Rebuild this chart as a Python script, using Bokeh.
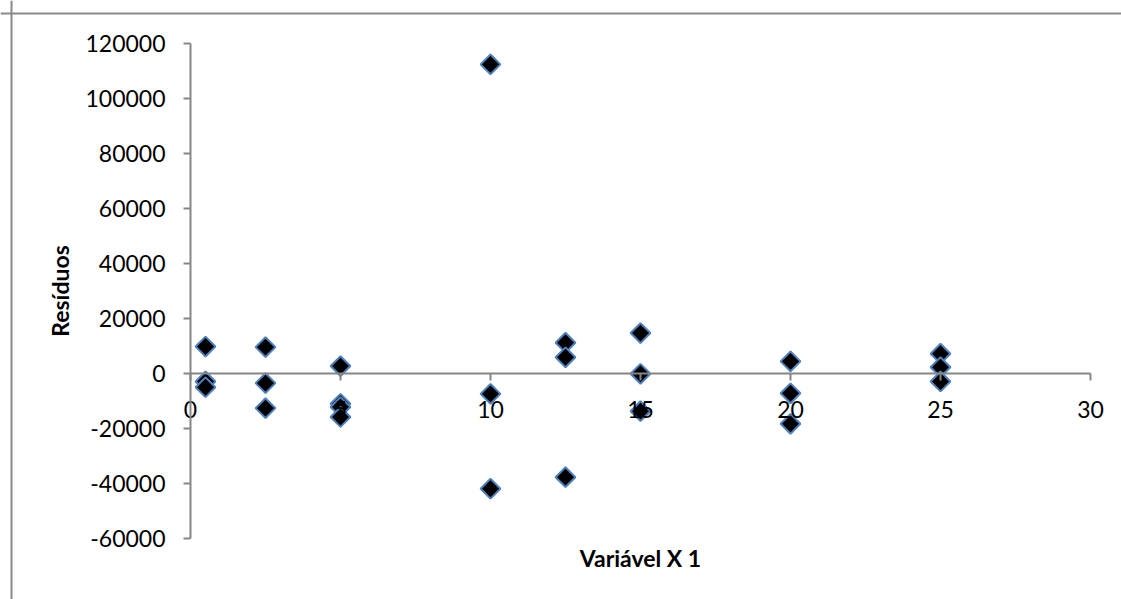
from bokeh.plotting import figure
from bokeh.models import Range1d, FixedTicker, NumeralTickFormatter, Label, Span
from bokeh.embed import file_html
from bokeh.resources import INLINE
import numpy as np

# data
x_vals = [0.5, 0.5, 0.5,
          2.5, 2.5, 2.5,
          5, 5, 5, 5,
          10, 10, 10,
          12.5, 12.5, 12.5,
          15, 15, 15,
          20, 20, 20,
          25, 25, 25]
residuos = [9800, -2900, -5000,
            9600, -3500, -12600,
            2700, -11000, -12200, -15800,
            112400, -7400, -41900,
            11200, 5900, -37700,
            14700, -100, -13700,
            4400, -7200, -18300,
            7200, 2300, -2900]
x_ticks = [0, 5, 10, 15, 20, 25, 30]
y_ticks = [-60000, -40000, -20000, 0, 20000, 40000, 60000, 80000, 100000, 120000]

FONT = "Lato"
AXIS_COLOR = "#868686"
W, H = 1121, 599

# layout geometry (pixels inside the figure)
X0_PX, X_PER_UNIT = 190, 30.0          # x=0 at this pixel; 30 px per unit
Y0_PX, Y_PER_UNIT = 373, 55.0 / 20000  # y=0 at this pixel (from top)
x_start = -X0_PX / X_PER_UNIT
x_end = (W - X0_PX) / X_PER_UNIT
y_end = Y0_PX / Y_PER_UNIT
y_start = -(H - Y0_PX) / Y_PER_UNIT

p = figure(width=W, height=H, output_backend="svg", toolbar_location=None,
           x_range=Range1d(x_start, x_end), y_range=Range1d(y_start, y_end),
           min_border=0, min_border_left=0, min_border_right=0,
           min_border_top=0, min_border_bottom=0)
p.outline_line_color = None
p.grid.visible = False
p.background_fill_color = "white"
p.border_fill_color = "white"

for ax in (p.xaxis, p.yaxis):
    ax.axis_line_color = AXIS_COLOR
    ax.axis_line_width = 2
    ax.major_tick_line_color = AXIS_COLOR
    ax.major_tick_line_width = 2
    ax.major_tick_in = 0
    ax.major_tick_out = 7
    ax.minor_tick_line_color = None
    ax.major_label_text_font = FONT
    ax.major_label_text_font_size = "23px"
    ax.major_label_text_color = "black"

p.xaxis.ticker = FixedTicker(ticks=x_ticks)
p.yaxis.ticker = FixedTicker(ticks=y_ticks)
p.yaxis.formatter = NumeralTickFormatter(format="0")
p.xaxis.fixed_location = 0
p.yaxis.fixed_location = 0
p.xaxis.bounds = (0, 30)
p.yaxis.bounds = (-60000, 120000)
p.xaxis.major_label_standoff = 20
p.yaxis.major_label_standoff = 18

p.yaxis.axis_label = "Resíduos"
p.yaxis.axis_label_text_font = FONT
p.yaxis.axis_label_text_font_size = "23px"
p.yaxis.axis_label_text_font_style = "bold"
p.yaxis.axis_label_text_color = "black"
p.yaxis.axis_label_standoff = 8

# outer chart border (only its top and left edges fall inside the picture)
p.add_layout(Span(location=x_start + 11 / X_PER_UNIT, dimension="height",
                  line_color="#898989", line_width=2))
p.add_layout(Span(location=y_end - 13 / Y_PER_UNIT, dimension="width",
                  line_color="#898989", line_width=2))

p.add_layout(Label(x=15, y=-67000, text="Variável X 1", text_align="center",
                   text_baseline="middle", text_font=FONT, text_font_size="23px",
                   text_font_style="bold", text_color="black"))

p.scatter(x_vals, residuos, marker="square", size=14, angle=np.pi / 4,
          fill_color="black", line_color="#4f81bd", line_width=2)

open("out.html", "w").write(file_html(p, INLINE))
